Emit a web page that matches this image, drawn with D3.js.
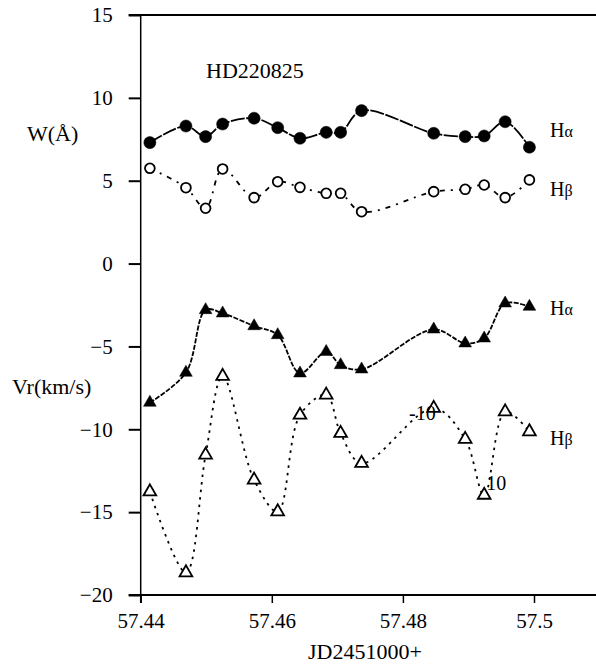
<!DOCTYPE html>
<html>
<head>
<meta charset="utf-8">
<script src="https://cdn.jsdelivr.net/npm/d3@7"></script>
<style>
  body { margin: 0; background: #fff; }
  svg text { font-family: "Times New Roman", "Liberation Serif", Tinos, "DejaVu Serif", serif !important; fill: #000; }
</style>
</head>
<body>
<div id="wrapper"></div>
<script>
// observation times (JD 2451000+)
const jd = [57.4414, 57.4469, 57.4499, 57.4525, 57.4573, 57.4609, 57.4643, 57.4683,
    57.4705, 57.4737, 57.4847, 57.4895, 57.4924, 57.4956, 57.4993]

// equivalent widths W (A)
const wHalpha = [7.30, 8.30, 7.66, 8.42, 8.77, 8.20, 7.56, 7.92, 7.92, 9.23, 7.86, 7.66, 7.70, 8.56, 7.02]
const wHbeta = [5.75, 4.58, 3.34, 5.71, 3.98, 4.94, 4.60, 4.24, 4.24, 3.13, 4.34, 4.48, 4.74, 3.98, 5.05]

// radial velocities Vr (km/s)
const vrHalpha = [-8.39, -6.58, -2.80, -3.00, -3.77, -4.31, -6.62, -5.32, -6.12, -6.38, -3.97, -4.81, -4.51, -2.40, -2.60]
const vrHbeta = [-13.77, -18.65, -11.55, -6.80, -13.06, -14.97, -9.14, -7.93, -10.24, -12.05, -8.73, -10.60, -13.97, -8.94, -10.14]

const yTicks = [15, 10, 5, 0, -5, -10, -15, -20]
const xTicks = [57.44, 57.46, 57.48, 57.5]

const width = 596
const height = 664
const serif = "'Times New Roman', 'Liberation Serif', Tinos, 'DejaVu Serif', serif"

const svg = d3.select("#wrapper")
    .append("svg")
    .attr("width", width)
    .attr("height", height)
    .attr("font-family", serif)

const xScale = d3.scaleLinear()
    .domain([57.44, 57.5])
    .range([140.7, 534])

const yScale = d3.scaleLinear()
    .domain([-20, 15])
    .range([595, 15])

const x0 = xScale(57.44)

// frame lines
svg.append("line")
    .attr("x1", x0 - 12).attr("x2", width)
    .attr("y1", yScale(15)).attr("y2", yScale(15))
    .attr("stroke", "#000").attr("stroke-width", 2)

svg.append("line")
    .attr("x1", x0 - 12).attr("x2", width)
    .attr("y1", yScale(-20)).attr("y2", yScale(-20))
    .attr("stroke", "#000").attr("stroke-width", 2)

svg.append("line")
    .attr("x1", x0).attr("x2", x0)
    .attr("y1", yScale(15)).attr("y2", yScale(-20) + 8)
    .attr("stroke", "#000").attr("stroke-width", 1.5)

// y axis
const yAxis = svg.append("g")
    .attr("transform", `translate(${x0},0)`)
    .call(d3.axisLeft(yScale).tickValues(yTicks).tickSize(12).tickSizeOuter(0).tickPadding(16))
    .attr("font-family", serif)
yAxis.select(".domain").remove()
yAxis.selectAll(".tick line").attr("stroke-width", 2)
yAxis.selectAll(".tick text")
    .attr("font-size", 21)

// x axis
const xAxis = svg.append("g")
    .attr("transform", `translate(0,${yScale(-20)})`)
    .call(d3.axisBottom(xScale).tickValues(xTicks).tickFormat(d3.format("")).tickSize(8).tickSizeOuter(0).tickPadding(10))
    .attr("font-family", serif)
xAxis.select(".domain").remove()
xAxis.selectAll(".tick line").attr("stroke-width", 1.5)
xAxis.selectAll(".tick text")
    .attr("font-size", 21)

// series
const series = [
    {values: wHalpha, dash: "14,1.5", marker: "circle", filled: true},
    {values: wHbeta, dash: "5,6,2,6", marker: "circle", filled: false},
    {values: vrHalpha, dash: "5,1.5", marker: "triangle", filled: true},
    {values: vrHbeta, dash: "2.5,5", marker: "triangle", filled: false},
]

const lineGen = d3.line()
    .x(d => xScale(d[0]))
    .y(d => yScale(d[1]))
    .curve(d3.curveCatmullRom.alpha(0.5))

series.forEach(s => {
    const pts = jd.map((t, i) => [t, s.values[i]])

    svg.append("path")
        .datum(pts)
        .attr("d", lineGen)
        .attr("fill", "none")
        .attr("stroke", "#000")
        .attr("stroke-width", 1.8)
        .attr("stroke-dasharray", s.dash)

    const sym = s.marker === "circle"
        ? d3.symbol().type(d3.symbolCircle).size(s.filled ? 115 : 75)
        : d3.symbol().type(d3.symbolTriangle).size(70)

    svg.append("g")
        .selectAll("path")
        .data(pts)
        .join("path")
        .attr("transform", d => `translate(${xScale(d[0])},${yScale(d[1])})`)
        .attr("d", sym)
        .attr("fill", s.filled ? "#000" : "#fff")
        .attr("stroke", "#000")
        .attr("stroke-width", s.filled ? 0.5 : 1.8)
})

// stray data labels
svg.append("text")
    .attr("x", xScale(jd[10]) + 2)
    .attr("y", yScale(vrHbeta[10]) + 12)
    .attr("text-anchor", "end")
    .attr("font-size", 20)
    .text("-10")

svg.append("text")
    .attr("x", xScale(jd[12]) + 2)
    .attr("y", yScale(vrHbeta[12]) - 5)
    .attr("font-size", 20)
    .text("10")

// series labels
const seriesLabel = (y, name) => {
    const t = svg.append("text")
        .attr("x", 550)
        .attr("y", y)
        .attr("font-size", 20)
    t.append("tspan").text("H")
    t.append("tspan").attr("font-size", 16).text(name)
}
seriesLabel(137, "α")
seriesLabel(196, "β")
seriesLabel(315, "α")
seriesLabel(445, "β")

// titles
svg.append("text")
    .attr("x", 206)
    .attr("y", 78)
    .attr("font-size", 22)
    .text("HD220825")

svg.append("text")
    .attr("x", 27)
    .attr("y", 141)
    .attr("font-size", 22)
    .text("W(Å)")

svg.append("text")
    .attr("x", 12)
    .attr("y", 394)
    .attr("font-size", 22)
    .text("Vr(km/s)")

svg.append("text")
    .attr("x", 365)
    .attr("y", 659)
    .attr("text-anchor", "middle")
    .attr("font-size", 22)
    .text("JD2451000+")
</script>
</body>
</html>
